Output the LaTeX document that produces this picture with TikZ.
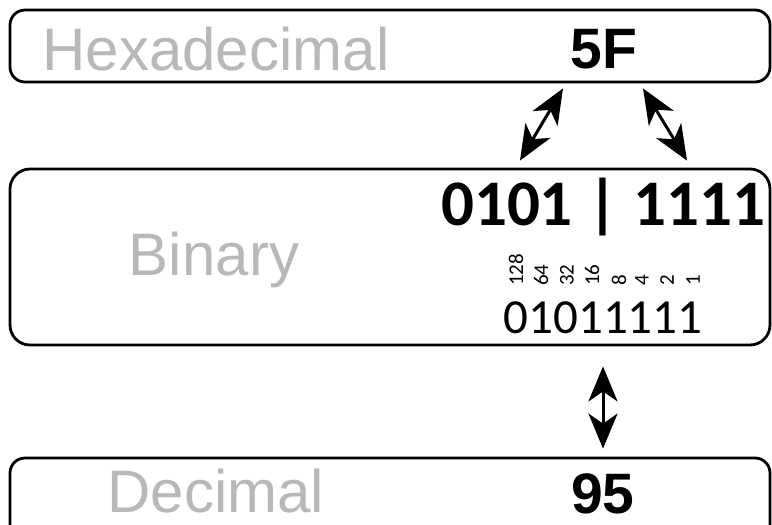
\documentclass[tikz,border=0pt]{standalone}
\usepackage{fontspec}
\setmainfont{Liberation Sans}
\newfontfamily\digitfont{Carlito}
\usetikzlibrary{arrows.meta,calc}

\definecolor{labelgray}{RGB}{184,184,184}

\tikzset{
  numbox/.style={draw=black, line width=2.8pt, rounded corners=#1,
                 rectangle, inner sep=0pt, minimum width=760pt},
  namelabel/.style={text=labelgray, anchor=base, inner sep=0pt,
                    font=\fontsize{60}{60}\selectfont},
  valuelabel/.style={text=black, anchor=base, inner sep=0pt,
                     font=\fontsize{57}{57}\selectfont\bfseries},
  weight/.style={rotate=90, anchor=west, inner sep=0pt,
                 font=\digitfont\fontsize{21}{21}\selectfont},
  convtip/.tip={Stealth[length=35pt,width=29pt,inset=10pt]},
  biarrow/.style={line width=3pt, {convtip}-{convtip}},
}

\begin{document}
\begin{tikzpicture}[x=1pt,y=-1pt]
  \useasboundingbox (0,0) rectangle (772,525);
  \clip (0,0) rectangle (772,525);

  % the three number boxes
  \node[numbox=15pt, minimum height=72pt]  (hex) at (390,46)  {};
  \node[numbox=20pt, minimum height=176pt] (bin) at (390,257) {};
  \node[numbox=15pt, minimum height=90pt]  (dec) at (390,503) {};

  % hexadecimal
  \node[namelabel]  (hexname) at (216,70) {Hexadecimal};
  \node[valuelabel] (hexval)  at (604,68) {5F};

  % binary
  \node[namelabel] (binname) at (214,275) {Binary};
  \node[anchor=base, inner sep=0pt,
        font=\digitfont\fontsize{65}{65}\selectfont\bfseries]
        (nibbles) at (603,225) {0101 | 1111};
  \node[anchor=base, inner sep=0pt,
        font=\digitfont\fontsize{49}{49}\selectfont]
        (bits) at (603,333) {01011111};
  \foreach \w/\x in {128/516, 64/541, 32/567, 16/592, 8/619, 4/642, 2/667, 1/693}
    \node[weight] (w\w) at (\x,286) {\w};

  % decimal (no descenders, so the box need not reach below the baseline)
  \node[namelabel, text depth=0pt]  (decname) at (216,512) {Decimal};
  \node[valuelabel, text depth=0pt] (decval)  at (603,513) {95};

  % conversions
  \draw[biarrow] ($(hex.south)+(173,5)$) -- ($(bin.north)+(130,-7)$);
  \draw[biarrow] ($(hex.south)+(253,5)$) -- ($(bin.north)+(297,-7)$);
  \draw[biarrow] ($(bin.south)+(213,20)$) -- ($(dec.north)+(213,-8)$);
\end{tikzpicture}
\end{document}
